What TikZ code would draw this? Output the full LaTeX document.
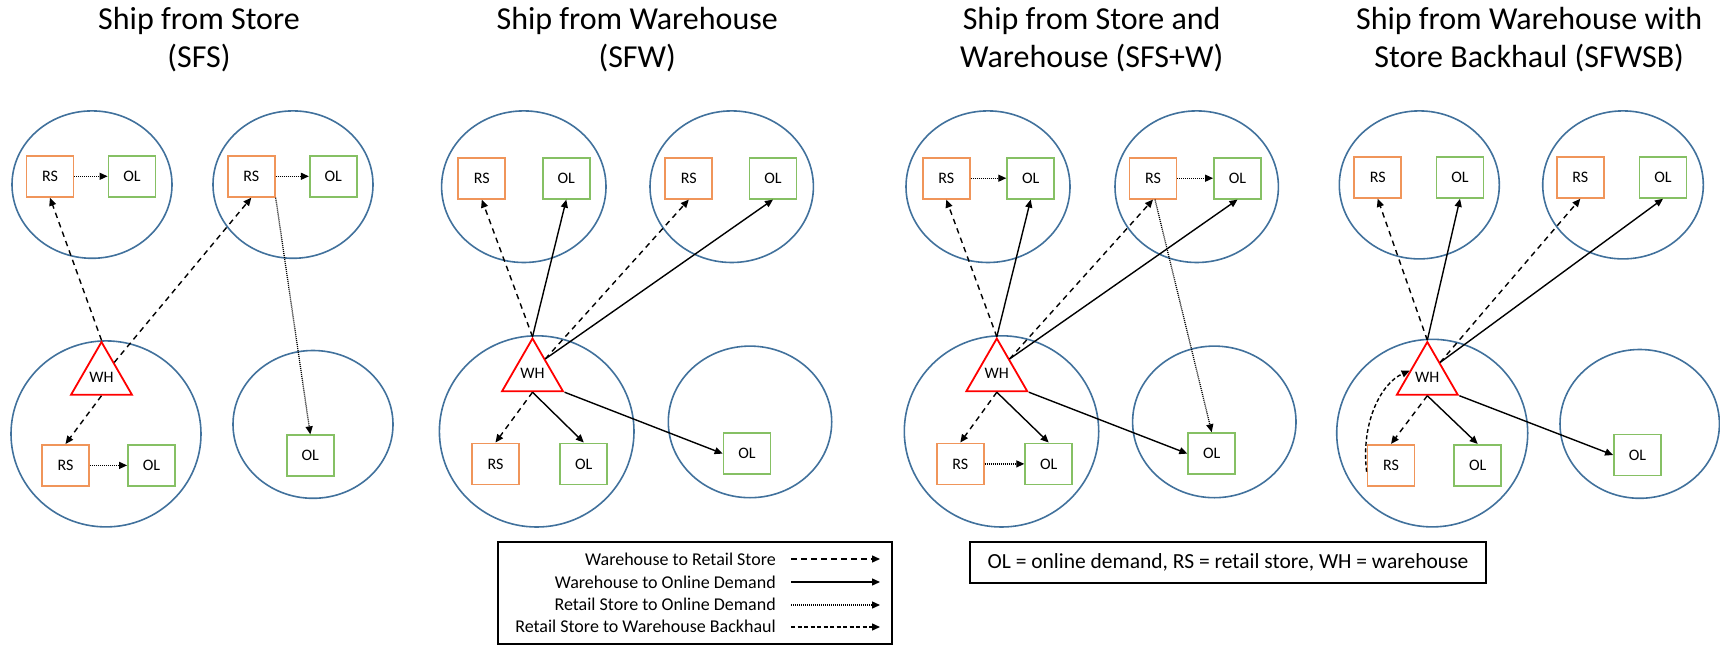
\documentclass[tikz,border=0pt]{standalone}
\usepackage{fontspec}
\setmainfont{Carlito}
\usetikzlibrary{shapes.geometric,arrows.meta,calc}
\definecolor{zoneblue}{HTML}{41719C}
\definecolor{rsorange}{HTML}{F0955A}
\definecolor{olgreen}{HTML}{86C064}
\tikzset{
  zone/.style={ellipse, draw=zoneblue, line width=1.6pt, inner sep=0pt},
  nbox/.style={line width=1.8pt, fill=white, minimum width=47pt, minimum height=41pt, inner sep=0pt, font=\fontsize{16}{18}\selectfont},
  rsbox/.style={nbox, draw=rsorange},
  olbox/.style={nbox, draw=olgreen},
  whtri/.style={regular polygon, regular polygon sides=3, draw=red, line width=1.8pt, fill=white, minimum size=70.4pt, inner sep=0pt, font=\fontsize{16}{18}\selectfont},
  ttl/.style={align=center, inner sep=0pt, font=\fontsize{32}{38}\selectfont, anchor=base},
  tipa/.style={-{Triangle[length=8pt,width=7pt]}},
  wrs/.style={tipa, line width=1.4pt, dash pattern=on 5.5pt off 4.5pt},
  wol/.style={tipa, line width=1.4pt},
  rso/.style={tipa, line width=1.3pt, dash pattern=on 1pt off 1pt},
  back/.style={tipa, line width=1.4pt, dash pattern=on 4pt off 2.5pt},
  lgtext/.style={anchor=base east, inner sep=0pt, font=\fontsize{18}{20}\selectfont},
  frame/.style={draw, line width=1.8pt, inner sep=0pt}
}
\begin{document}
\begin{tikzpicture}[x=1pt,y=-1pt]
\useasboundingbox (0,0) rectangle (1720,647);

% titles (base anchor = baseline of last line)
\node[ttl] (t1) at (199,67.2) {Ship from Store\\(SFS)};
\node[ttl] (t2) at (637.2,67.2) {Ship from Warehouse\\(SFW)};
\node[ttl] (t3) at (1091.7,67.2) {Ship from Store and\\Warehouse (SFS+W)};
\node[ttl] (t4) at (1529.2,67.2) {Ship from Warehouse with\\Store Backhaul (SFWSB)};

% ---------- panel 1 ----------
\node[zone, minimum width=160pt, minimum height=147.4pt] (p1e1) at (92,184.6) {};
\node[zone, minimum width=160pt, minimum height=147.4pt] (p1e2) at (293,184.6) {};
\node[zone, minimum width=190pt, minimum height=186pt] (p1e3) at (106,433.9) {};
\node[zone, minimum width=160pt, minimum height=147.8pt] (p1e4) at (313,424.4) {};
\node[rsbox] (p1rs1) at (50,176.3) {RS};
\node[olbox] (p1ol1) at (132,176.3) {OL};
\node[rsbox] (p1rs2) at (251.3,176.3) {RS};
\node[olbox] (p1ol2) at (333.3,176.3) {OL};
\node[rsbox] (p1rs3) at (65.5,465.4) {RS};
\node[olbox] (p1ol3) at (151.5,465.4) {OL};
\node[olbox] (p1ol4) at (310.3,455.8) {OL};
\node[whtri] (p1wh) at (101.5,377.2) {WH};

% ---------- panel 2 ----------
\node[zone, minimum width=164.4pt, minimum height=151.6pt] (p2e1) at (523.8,186.7) {};
\node[zone, minimum width=163.4pt, minimum height=151.6pt] (p2e2) at (731.7,186.7) {};
\node[zone, minimum width=194.6pt, minimum height=191.2pt] (p2e3) at (536.7,431.4) {};
\node[zone, minimum width=163.4pt, minimum height=151.6pt] (p2e4) at (750,421.9) {};
\node[rsbox] (p2rs1) at (481.8,178.2) {RS};
\node[olbox] (p2ol1) at (566.3,178.2) {OL};
\node[rsbox] (p2rs2) at (688.8,178.2) {RS};
\node[olbox] (p2ol2) at (773,178.2) {OL};
\node[rsbox] (p2rs3) at (495.5,463.9) {RS};
\node[olbox] (p2ol3) at (583.8,463.9) {OL};
\node[olbox] (p2ol4) at (747,453.6) {OL};
\node[whtri] (p2wh) at (532.5,373.7) {WH};

% ---------- panel 3 ----------
\node[zone, minimum width=164pt, minimum height=151.6pt] (p3e1) at (988,186.7) {};
\node[zone, minimum width=163.4pt, minimum height=151.6pt] (p3e2) at (1196.7,186.7) {};
\node[zone, minimum width=194.4pt, minimum height=191.2pt] (p3e3) at (1001.5,431.4) {};
\node[zone, minimum width=163.4pt, minimum height=151.6pt] (p3e4) at (1214.3,421.9) {};
\node[rsbox] (p3rs1) at (946.3,178.2) {RS};
\node[olbox] (p3ol1) at (1030.7,178.2) {OL};
\node[rsbox] (p3rs2) at (1153,178.2) {RS};
\node[olbox] (p3ol2) at (1237.5,178.2) {OL};
\node[rsbox] (p3rs3) at (960.3,463.9) {RS};
\node[olbox] (p3ol3) at (1048.7,463.9) {OL};
\node[olbox] (p3ol4) at (1211.7,453.6) {OL};
\node[whtri] (p3wh) at (996.8,373.7) {WH};

% ---------- panel 4 ----------
\node[zone, minimum width=160pt, minimum height=148pt] (p4e1) at (1419.3,184.9) {};
\node[zone, minimum width=160.6pt, minimum height=148pt] (p4e2) at (1623,184.9) {};
\node[zone, minimum width=191pt, minimum height=187.6pt] (p4e3) at (1432.2,433.1) {};
\node[zone, minimum width=159.4pt, minimum height=148.8pt] (p4e4) at (1639.7,423.9) {};
\node[rsbox] (p4rs1) at (1377.7,177.4) {RS};
\node[olbox] (p4ol1) at (1460,177.4) {OL};
\node[rsbox] (p4rs2) at (1580.3,177.4) {RS};
\node[olbox] (p4ol2) at (1663,177.4) {OL};
\node[rsbox] (p4rs3) at (1391,465.3) {RS};
\node[olbox] (p4ol3) at (1477.7,465.3) {OL};
\node[olbox] (p4ol4) at (1637.5,455) {OL};
\node[whtri] (p4wh) at (1427.3,377.2) {WH};

% ---------- connectors panel 1 ----------
\draw[wrs] (p1wh.corner 1) -- (p1rs1.south);
\draw[wrs] ($(p1wh.corner 1)!0.4!(p1wh.corner 3)$) -- (p1rs2.south);
\draw[wrs] ($(p1wh.corner 2)!0.5!(p1wh.corner 3)$) -- (p1rs3.north);
\draw[rso] (p1rs1.east) -- (p1ol1.west);
\draw[rso] (p1rs2.east) -- (p1ol2.west);
\draw[rso] (p1rs3.east) -- (p1ol3.west);
\draw[rso] (p1rs2.south east) -- (p1ol4.north);

% ---------- connectors panel 2 ----------
\draw[wrs] (p2wh.corner 1) -- (p2rs1.south);
\draw[wol] (p2wh.corner 1) -- (p2ol1.south);
\draw[wrs] ($(p2wh.corner 1)!0.4!(p2wh.corner 3)$) -- (p2rs2.south);
\draw[wol] ($(p2wh.corner 1)!0.4!(p2wh.corner 3)$) -- (p2ol2.south);
\draw[wrs] ($(p2wh.corner 2)!0.5!(p2wh.corner 3)$) -- (p2rs3.north);
\draw[wol] ($(p2wh.corner 2)!0.5!(p2wh.corner 3)$) -- (p2ol3.north);
\draw[wol] (p2wh.corner 3) -- (p2ol4.west);

% ---------- connectors panel 3 ----------
\draw[wrs] (p3wh.corner 1) -- (p3rs1.south);
\draw[wol] (p3wh.corner 1) -- (p3ol1.south);
\draw[wrs] ($(p3wh.corner 1)!0.4!(p3wh.corner 3)$) -- (p3rs2.south);
\draw[wol] ($(p3wh.corner 1)!0.4!(p3wh.corner 3)$) -- (p3ol2.south);
\draw[wrs] ($(p3wh.corner 2)!0.5!(p3wh.corner 3)$) -- (p3rs3.north);
\draw[wol] ($(p3wh.corner 2)!0.5!(p3wh.corner 3)$) -- (p3ol3.north);
\draw[wol] (p3wh.corner 3) -- (p3ol4.west);
\draw[rso] (p3rs1.east) -- (p3ol1.west);
\draw[rso] (p3rs2.east) -- (p3ol2.west);
\draw[rso] (p3rs3.east) -- (p3ol3.west);
\draw[rso] ($(p3rs2.south)+(2,0)$) -- (p3ol4.north);

% ---------- connectors panel 4 ----------
\draw[wrs] (p4wh.corner 1) -- (p4rs1.south);
\draw[wol] (p4wh.corner 1) -- (p4ol1.south);
\draw[wrs] ($(p4wh.corner 1)!0.4!(p4wh.corner 3)$) -- (p4rs2.south);
\draw[wol] ($(p4wh.corner 1)!0.4!(p4wh.corner 3)$) -- (p4ol2.south);
\draw[wrs] ($(p4wh.corner 2)!0.5!(p4wh.corner 3)$) -- (p4rs3.north);
\draw[wol] ($(p4wh.corner 2)!0.5!(p4wh.corner 3)$) -- (p4ol3.north);
\draw[wol] (p4wh.corner 3) -- (p4ol4.west);
\coordinate (p4bs) at ($(p4rs3.north west)!0.65!(p4rs3.south west)$);
\coordinate (p4be) at ($(p4wh.corner 1)!0.55!(p4wh.corner 2)$);
\draw[back] (p4bs) .. controls ($(p4bs)+(-6,-50)$) and ($(p4be)+(-28,12)$) .. (p4be);

% ---------- legend ----------
\node[frame, minimum width=394pt, minimum height=102pt] (legend) at (695,593) {};
\node[lgtext] (lt1) at (776,565.5) {Warehouse to Retail Store};
\node[lgtext] (lt2) at (776,588) {Warehouse to Online Demand};
\node[lgtext] (lt3) at (776,610.5) {Retail Store to Online Demand};
\node[lgtext] (lt4) at (776,632.5) {Retail Store to Warehouse Backhaul};
\coordinate (la1) at (791,559);   \coordinate (lb1) at (880,559);
\coordinate (la2) at (791,582);   \coordinate (lb2) at (880,582);
\coordinate (la3) at (791,605);   \coordinate (lb3) at (880,605);
\coordinate (la4) at (791,627);   \coordinate (lb4) at (880,627);
\draw[wrs] (la1) -- (lb1);
\draw[wol] (la2) -- (lb2);
\draw[rso] (la3) -- (lb3);
\draw[back] (la4) -- (lb4);

% ---------- abbreviations ----------
\node[frame, minimum width=516pt, minimum height=41pt, font=\fontsize{21.5}{24}\selectfont] (abbr) at (1228,562.5) {OL = online demand, RS = retail store, WH = warehouse};
\end{tikzpicture}
\end{document}
